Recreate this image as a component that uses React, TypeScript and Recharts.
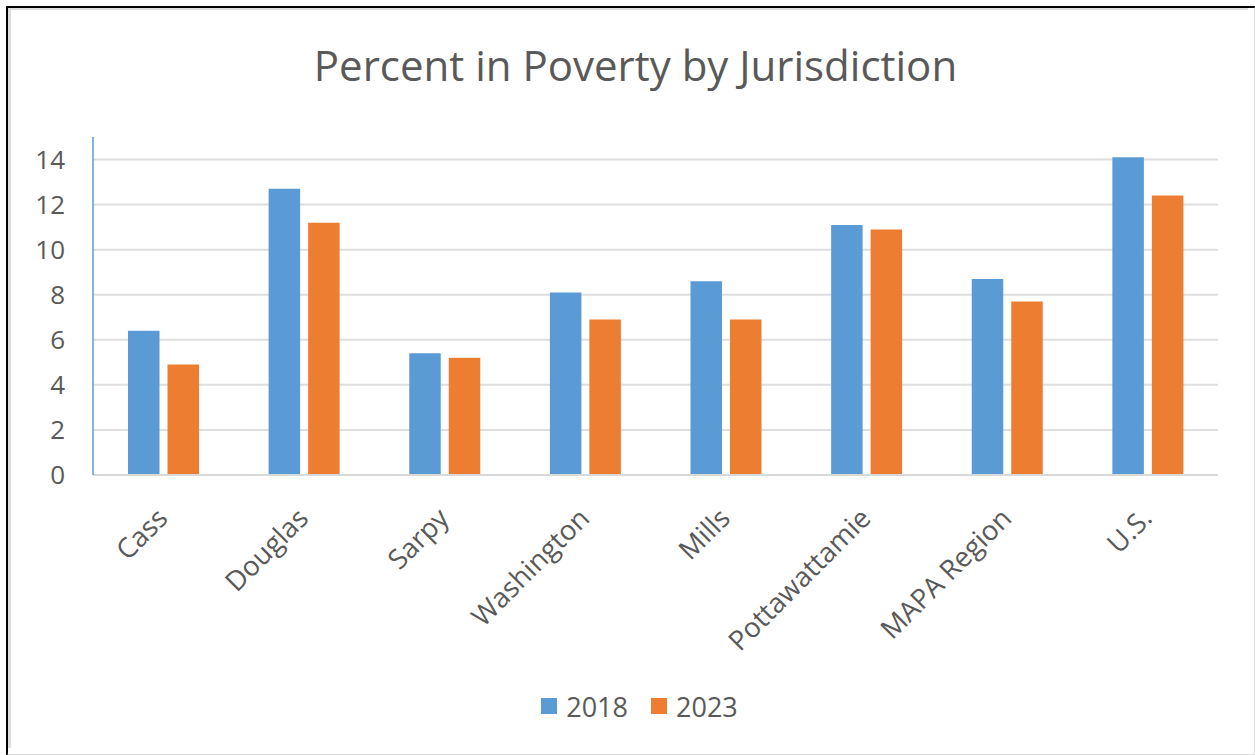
import React from 'react';
import { BarChart, Bar, XAxis, YAxis, CartesianGrid } from 'recharts';

const categories = ['Cass', 'Douglas', 'Sarpy', 'Washington', 'Mills', 'Pottawattamie', 'MAPA Region', 'U.S.'];
const values2018 = [6.4, 12.7, 5.4, 8.1, 8.6, 11.1, 8.7, 14.1];
const values2023 = [4.9, 11.2, 5.2, 6.9, 6.9, 10.9, 7.7, 12.4];
const yTicks = [0, 2, 4, 6, 8, 10, 12, 14];
const yDomain: [number, number] = [0, 15];
const seriesNames = ['2018', '2023'];
const seriesColors = ['#5B9BD5', '#ED7D31'];
const title = 'Percent in Poverty by Jurisdiction';

const data = categories.map((name, i) => ({ name, y2018: values2018[i], y2023: values2023[i] }));

const FONT = '"Open Sans", "DejaVu Sans", sans-serif';
const TEXT = '#595959';

const CatTick = (props: any) => {
  const { x, y, payload } = props;
  return (
    <text
      transform={`translate(${x + 6},${y + 45}) rotate(-45)`}
      textAnchor="end"
      fill={TEXT}
      fontSize={27.5}
      fontFamily={FONT}
    >
      {payload.value}
    </text>
  );
};

const scaleValue = (s: any, v: number): number | null => {
  if (typeof s === 'function') return s(v);
  if (s && typeof s.map === 'function') return s.map(v);
  if (s && typeof s.scale === 'function') return s.scale(v);
  return null;
};

const gridGen = (args: any) => {
  const s = args?.yAxis?.scale;
  const off = args?.offset;
  return yTicks
    .filter((t) => t > 0)
    .map((t) => {
      const p = scaleValue(s, t);
      if (p != null && !Number.isNaN(p)) return p;
      // fallback: linear mapping of the axis domain onto the plot area
      return off.top + off.height * (1 - (t - yDomain[0]) / (yDomain[1] - yDomain[0]));
    });
};

export default function App() {
  return (
    <div style={{ position: 'absolute', left: 0, top: 0, width: 1255, height: 755, background: '#fff', overflow: 'hidden' }}>
      {/* frame */}
      <div style={{ position: 'absolute', left: 6, top: 6, width: 1246, height: 746, borderLeft: '2px solid #000', borderTop: '2px solid #000', borderRight: '2px solid #dcdcdc', borderBottom: '2px solid #dcdcdc' }} />
      <div style={{ position: 'absolute', left: 8, top: 8, width: 10, height: 740, borderLeft: '3px solid #dedede' }} />
      <div style={{ position: 'absolute', left: 8, top: 8, width: 1240, height: 3, borderTop: '2px solid #dedede' }} />

      <div style={{ position: 'absolute', left: 8, top: 44, width: 1255, textAlign: 'center', fontFamily: FONT, fontSize: 42, lineHeight: '42px', color: TEXT }}>
        {title}
      </div>

      <div style={{ position: 'absolute', left: 0, top: 0 }}>
        <BarChart width={1255} height={755} data={data} margin={{ top: 137, right: 37, bottom: 0, left: 0 }} barGap={8} barSize={31.5}>
          <CartesianGrid vertical={false} stroke="#DEDEDE" strokeWidth={2} horizontalCoordinatesGenerator={gridGen} />
          <XAxis
            dataKey="name"
            height={280}
            axisLine={{ stroke: '#D9D9D9', strokeWidth: 2 }}
            tickLine={false}
            tickSize={0}
            tickMargin={0}
            interval={0}
            tick={<CatTick />}
          />
          <YAxis
            width={93}
            domain={yDomain}
            ticks={yTicks}
            allowDataOverflow
            axisLine={{ stroke: '#5B9BD5', strokeWidth: 1.5 }}
            tickLine={false}
            tickSize={6}
            tickMargin={22}
            tick={{ fill: TEXT, fontSize: 26, fontFamily: FONT }}
          />
          <Bar dataKey="y2018" name={seriesNames[0]} fill={seriesColors[0]} isAnimationActive={false} />
          <Bar dataKey="y2023" name={seriesNames[1]} fill={seriesColors[1]} isAnimationActive={false} />
        </BarChart>
      </div>

      <div style={{ position: 'absolute', left: 12, top: 686, width: 1255, display: 'flex', justifyContent: 'center', alignItems: 'center', fontFamily: FONT, fontSize: 27, color: TEXT, height: 40 }}>
        {seriesNames.map((n, i) => (
          <div key={n} style={{ display: 'flex', alignItems: 'center', marginLeft: i === 0 ? 0 : 23 }}>
            <div style={{ width: 16, height: 16, background: seriesColors[i], marginRight: 9 }} />
            <span>{n}</span>
          </div>
        ))}
      </div>
    </div>
  );
}
